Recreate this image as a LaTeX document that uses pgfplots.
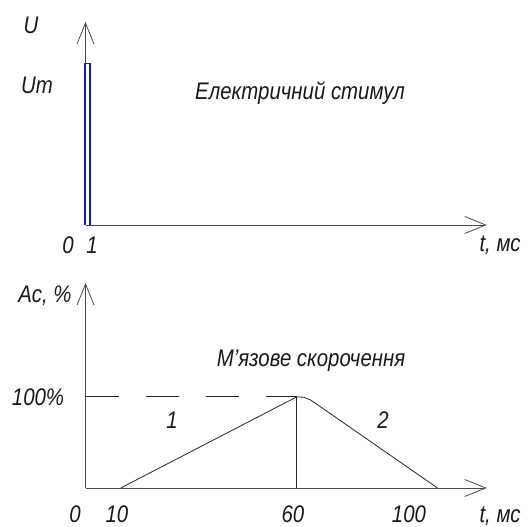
\documentclass[border=0pt]{standalone}
\usepackage{fontspec}
\setmainfont{Liberation Sans}[FakeStretch=0.85]
\usepackage{pgfplots}
\pgfplotsset{compat=1.18}
\usetikzlibrary{arrows.meta}
\definecolor{axisgray}{HTML}{4A4A4A}
\definecolor{pulseblue}{HTML}{1A1ACC}
\begin{document}
\begin{tikzpicture}[x=1pt,y=1pt,
  lbl/.style={font=\itshape\fontsize{24}{28}\selectfont, text=black!90, inner sep=0pt}]
\path[use as bounding box] (0,0) rectangle (531,527);
\pgfplotsset{
  sketch/.style={
    scale only axis, clip=false,
    axis lines=left,
    axis line style={draw=axisgray, line width=0.8pt, -{Straight Barb[length=21pt,width=17pt,line width=0.8pt]}},
    xtick=\empty, ytick=\empty,
    xmin=0, xmax=114, width=401.3pt,
  }
}
% Electric stimulus: short rectangular pulse of amplitude Um
\begin{axis}[sketch, at={(85.5pt,302pt)}, anchor=south west,
  ymin=0, ymax=1.26, height=203pt]
\addplot[pulseblue, line width=1.2pt] coordinates {(-0.15,0) (-0.15,1) (1.25,1) (1.25,0)};
\end{axis}
% Muscle contraction: rise 1 (10..60 ms) and relaxation 2 (60..100 ms)
\begin{axis}[sketch, at={(85.5pt,39pt)}, anchor=south west,
  ymin=0, ymax=225, height=205pt]
\addplot[black!85, line width=0.8pt, dash pattern=on 33pt off 27pt] coordinates {(0,100) (60,100)};
\addplot[black!85, line width=0.8pt] coordinates {(60,0) (60,100)};
\addplot[black!85, line width=0.8pt] coordinates {(10,0) (60,100) (62,99.6) (64,96.5) (100,0)};
\end{axis}
% labels
\node[lbl] at (31,502) {U};
\node[lbl] at (37,442) {Um};
\node[lbl] at (300,434) {Електричний стимул};
\node[lbl] at (68,282) {0};
\node[lbl] at (92,282) {1};
\node[lbl] at (500,282) {t, мс};
\node[lbl] at (45,231) {Ac, \%};
\node[lbl] at (38,130) {100\%};
\node[lbl] at (311,166) {М’язове скорочення};
\node[lbl] at (172,107) {1};
\node[lbl] at (383,107) {2};
\node[lbl, anchor=base] at (75,4) {0};
\node[lbl, anchor=base] at (117,4) {10};
\node[lbl, anchor=base] at (293,4) {60};
\node[lbl, anchor=base] at (409,4) {100};
\node[lbl, anchor=base] at (500,4) {t, мс};
\end{tikzpicture}
\end{document}
